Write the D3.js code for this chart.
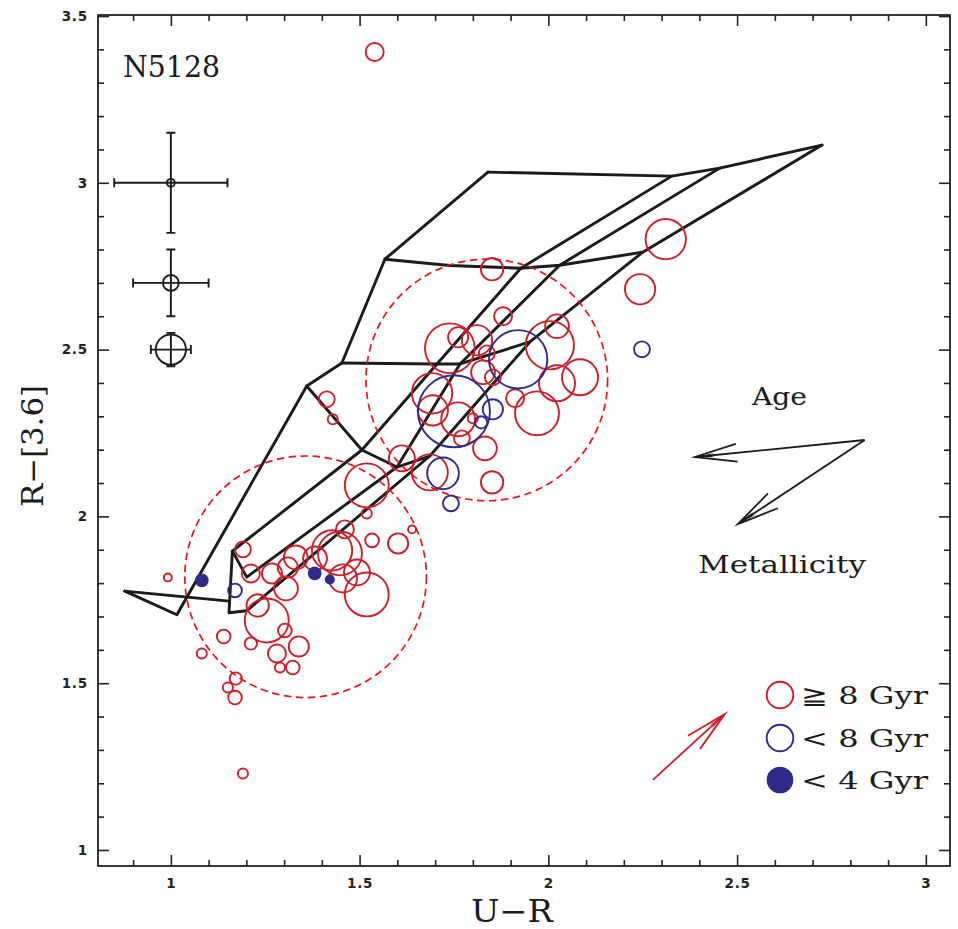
<!DOCTYPE html>
<html>
<head>
<meta charset="utf-8">
<script src="https://cdn.jsdelivr.net/npm/d3@7"></script>
<style>
  body { margin: 0; background: #fff; }
  svg { display: block; }
</style>
</head>
<body>
<svg id="chart" width="958" height="929"></svg>
<script>
// ---- Globular clusters in NGC 5128: U-R versus R-[3.6] ----

// Old clusters (>= 8 Gyr): colours and relative symbol size
const oldUR   = [1.540, 2.311, 2.243, 1.851, 1.413, 1.429, 1.880, 1.739, 1.761, 1.811,
                 1.837, 1.827, 1.853, 2.023, 2.004, 2.084, 2.023, 1.970, 1.912, 1.692,
                 1.694, 1.761, 1.800, 1.771, 1.832, 1.612, 1.686, 1.851, 1.519, 1.519,
                 1.533, 1.639, 1.602, 1.461, 1.191, 0.992, 1.212, 1.268, 1.310, 1.331,
                 1.382, 1.427, 1.448, 1.456, 1.493, 1.519, 1.305, 1.230, 1.254, 1.302,
                 1.140, 1.212, 1.281, 1.339, 1.289, 1.323, 1.172, 1.151, 1.170, 1.191,
                 1.082];
const oldR36  = [3.392, 2.831, 2.681, 2.741, 2.351, 2.291, 2.600, 2.504, 2.537, 2.528,
                 2.489, 2.432, 2.417, 2.570, 2.513, 2.417, 2.399, 2.309, 2.354, 2.369,
                 2.318, 2.291, 2.294, 2.234, 2.204, 2.174, 2.132, 2.102, 2.093, 2.009,
                 1.928, 1.961, 1.919, 1.961, 1.901, 1.817, 1.829, 1.829, 1.847, 1.877,
                 1.874, 1.898, 1.889, 1.814, 1.832, 1.766, 1.784, 1.733, 1.688, 1.658,
                 1.640, 1.619, 1.589, 1.610, 1.547, 1.547, 1.514, 1.487, 1.457, 1.229,
                 1.589];
const oldSize = [2.5, 5.6, 4.2, 3.1, 2.2, 1.4, 2.5, 6.9, 2.8, 4.2,
                 2.2, 3.3, 2.2, 3.3, 6.7, 5.0, 5.0, 6.1, 2.5, 5.6,
                 4.2, 4.7, 1.4, 2.2, 3.3, 3.6, 5.0, 3.1, 6.1, 1.4,
                 1.9, 1.1, 2.8, 2.5, 2.2, 1.1, 2.5, 2.8, 2.8, 3.3,
                 3.3, 5.6, 6.1, 3.9, 3.6, 6.1, 3.3, 3.1, 6.1, 1.9,
                 1.9, 1.7, 2.5, 2.8, 1.4, 1.9, 1.7, 1.4, 1.9, 1.4,
                 1.4];

// Intermediate-age clusters (< 8 Gyr)
const midUR   = [1.920, 1.750, 1.853, 1.822, 1.721, 1.742, 2.248, 1.170];
const midR36  = [2.471, 2.315, 2.321, 2.282, 2.129, 2.039, 2.501, 1.778];
const midSize = [8.1, 10.0, 2.8, 1.7, 4.4, 2.2, 2.2, 1.9];

// Young clusters (< 4 Gyr)
const youngUR   = [1.082, 1.381, 1.421];
const youngR36  = [1.808, 1.829, 1.811];
const youngSize = [1.9, 1.9, 1.4];

// Typical errors for three symbol sizes
const errUR   = [1.0, 1.0, 1.0];
const errR36  = [3.0, 2.7, 2.5];
const errSize = [1.1, 2.2, 4.2];
const errDx   = [0.15, 0.10, 0.053];
const errDy   = [0.15, 0.10, 0.05];

// SSP model grid: isochrones and metallicity tracks
const isoOldest = [[1.840, 3.032], [2.327, 3.020], [2.454, 3.044], [2.725, 3.113]];
const iso2      = [[1.567, 2.771], [1.739, 2.752], [1.927, 2.744], [2.030, 2.753], [2.250, 2.792]];
const iso3      = [[1.453, 2.460], [1.705, 2.457], [1.766, 2.457], [1.951, 2.523]];
const iso4      = [[1.360, 2.391], [1.506, 2.199], [1.599, 2.148], [1.686, 2.181]];
const isoYoung  = [[0.878, 1.776], [1.154, 1.746]];
const trackZ1   = [[0.878, 1.776], [1.016, 1.705], [1.360, 2.391], [1.453, 2.460], [1.567, 2.771], [1.840, 3.032]];
const trackZ2   = [[2.327, 3.020], [1.927, 2.744], [1.705, 2.457], [1.506, 2.199], [1.163, 1.896], [1.154, 1.711], [1.201, 1.717]];
const trackZ3   = [[2.454, 3.044], [2.030, 2.753], [1.766, 2.457], [1.599, 2.148], [1.201, 1.818], [1.163, 1.896]];
const trackZ4   = [[2.725, 3.113], [2.250, 2.792], [1.951, 2.523], [1.686, 2.181], [1.201, 1.717]];
const modelLines = [isoOldest, iso2, iso3, iso4, isoYoung, trackZ1, trackZ2, trackZ3, trackZ4];

// Two colour groups (centre U-R, centre R-[3.6], radius in U-R units)
const groupCentres = [[1.357, 1.819], [1.837, 2.409]];
const groupRadius  = 0.32;

// Direction arrows [from, to]
const ageArrow   = [[2.838, 2.229], [2.388, 2.178]];
const metalArrow = [[2.838, 2.229], [2.502, 1.977]];
const redArrow   = [[2.277, 1.210], [2.468, 1.408]];

// Axis ticks
const xMajor = [1, 1.5, 2, 2.5, 3];
const yMajor = [1, 1.5, 2, 2.5, 3, 3.5];
const xMinor = d3.range(9, 31).map(d => d / 10).filter(v => !xMajor.includes(v));
const yMinor = d3.range(10, 36).map(d => d / 10).filter(v => !yMajor.includes(v));

const legendLabels = ["\u2267 8 Gyr", "< 8 Gyr", "< 4 Gyr"];

// ---- layout ----
const L = 98, R = 950, T = 15, B = 866;
const RED = "#c9202b", BLUE = "#2f2b88", DASH_RED = "#e8141c", INK = "#1b1b1b";
const SERIF = "'DejaVu Serif', serif";

const svg = d3.select("#chart");
const x = d3.scaleLinear().domain([0.807, 3.064]).range([L, R]);
const y = d3.scaleLinear().domain([0.952, 3.503]).range([B, T]);
const r = d3.scaleLinear().domain([0, 10]).range([0, 36]);

// model grid
const line = d3.line().x(d => x(d[0])).y(d => y(d[1]));
svg.append("g")
  .selectAll("path").data(modelLines).join("path")
  .attr("d", line)
  .attr("fill", "none").attr("stroke", INK)
  .attr("stroke-width", 2.9).attr("stroke-linejoin", "round").attr("stroke-linecap", "round");

// group outlines
svg.append("g")
  .selectAll("circle").data(groupCentres).join("circle")
  .attr("cx", d => x(d[0])).attr("cy", d => y(d[1]))
  .attr("r", x(1 + groupRadius) - x(1))
  .attr("fill", "none").attr("stroke", DASH_RED)
  .attr("stroke-width", 1.7).attr("stroke-dasharray", "7.5,4.5");

// clusters
function plotGroup(ur, r36, size, color, filled) {
  svg.append("g")
    .selectAll("circle").data(ur.map((u, i) => [u, r36[i], size[i]])).join("circle")
    .attr("cx", d => x(d[0])).attr("cy", d => y(d[1])).attr("r", d => r(d[2]))
    .attr("fill", filled ? color : "none")
    .attr("stroke", filled ? "none" : color)
    .attr("stroke-width", 1.9);
}
plotGroup(oldUR, oldR36, oldSize, RED, false);
plotGroup(midUR, midR36, midSize, BLUE, false);
plotGroup(youngUR, youngR36, youngSize, BLUE, true);

// typical error bars
const eg = svg.append("g").attr("stroke", INK).attr("stroke-width", 1.9).attr("fill", "none");
errUR.forEach((u, i) => {
  const cx = x(u), cy = y(errR36[i]);
  const x0 = x(u - errDx[i]), x1 = x(u + errDx[i]);
  const y0 = y(errR36[i] - errDy[i]), y1 = y(errR36[i] + errDy[i]);
  const cap = 4.5;
  eg.append("path").attr("d",
    `M${x0},${cy}H${x1}M${cx},${y0}V${y1}` +
    `M${x0},${cy - cap}V${cy + cap}M${x1},${cy - cap}V${cy + cap}` +
    `M${cx - cap},${y0}H${cx + cap}M${cx - cap},${y1}H${cx + cap}`);
  eg.append("circle").attr("cx", cx).attr("cy", cy).attr("r", r(errSize[i]));
});

// arrows
function arrow(a, color, width) {
  const x1 = x(a[0][0]), y1 = y(a[0][1]), x2 = x(a[1][0]), y2 = y(a[1][1]);
  const ang = Math.atan2(y1 - y2, x1 - x2);
  const len = 43, spread = 12 * Math.PI / 180;
  const p = (l, t) => [x2 + l * Math.cos(ang + t), y2 + l * Math.sin(ang + t)];
  const g = svg.append("g");
  g.append("path")
    .attr("d", `M${x1},${y1}L${x2},${y2}M${p(len, spread)}L${x2},${y2}L${p(len, -spread)}`)
    .attr("fill", "none").attr("stroke", color).attr("stroke-width", width)
    .attr("stroke-linejoin", "miter").attr("stroke-miterlimit", 10);
  g.append("path")
    .attr("d", `M${x2},${y2}L${p(20, 0.1)}L${p(14, 0)}L${p(20, -0.1)}Z`)
    .attr("fill", color);
}
arrow(ageArrow, INK, 1.8);
arrow(metalArrow, INK, 1.8);
arrow(redArrow, RED, 1.8);

// annotation text
function label(txt, px, py, size, len) {
  svg.append("text").text(txt)
    .attr("x", px).attr("y", py)
    .attr("font-family", SERIF).attr("font-size", size)
    .attr("fill", INK)
    .attr("textLength", len).attr("lengthAdjust", "spacingAndGlyphs");
}
label("N5128", 123, 77, 29, 97);
label("Age", 752, 405, 25, 55);
label("Metallicity", 698, 573, 25, 168);

// legend
const legendY = [695, 738, 780];
legendLabels.forEach((t, i) => {
  svg.append("circle")
    .attr("cx", 780).attr("cy", legendY[i]).attr("r", r(3.7))
    .attr("fill", i === 2 ? BLUE : "none")
    .attr("stroke", i === 2 ? "none" : (i === 0 ? RED : BLUE))
    .attr("stroke-width", 1.9);
  label(t, 801, legendY[i] + 8.5, 25, 127);
});

// axes: ticks on all four sides, pointing inward
function styleAxis(g) {
  g.select(".domain").remove();
  g.selectAll(".tick line").attr("stroke", "#222").attr("stroke-width", 1.6);
  g.selectAll(".tick text")
    .attr("font-family", "'DejaVu Sans', sans-serif").attr("font-weight", "bold")
    .attr("font-size", 13.5).attr("fill", "#222").attr("letter-spacing", 0.8);
}
const fmt = d => d3.format("~g")(d);
svg.append("g").attr("transform", `translate(0,${B})`)
  .call(d3.axisBottom(x).tickValues(xMinor).tickSize(-6).tickFormat("")).call(styleAxis);
svg.append("g").attr("transform", `translate(0,${B})`)
  .call(d3.axisBottom(x).tickValues(xMajor).tickSize(-11).tickPadding(12).tickFormat(fmt)).call(styleAxis);
svg.append("g").attr("transform", `translate(0,${T})`)
  .call(d3.axisTop(x).tickValues(xMinor).tickSize(-6).tickFormat("")).call(styleAxis);
svg.append("g").attr("transform", `translate(0,${T})`)
  .call(d3.axisTop(x).tickValues(xMajor).tickSize(-11).tickFormat("")).call(styleAxis);
svg.append("g").attr("transform", `translate(${L},0)`)
  .call(d3.axisLeft(y).tickValues(yMinor).tickSize(-6).tickFormat("")).call(styleAxis);
svg.append("g").attr("transform", `translate(${L},0)`)
  .call(d3.axisLeft(y).tickValues(yMajor).tickSize(-11).tickPadding(10).tickFormat(fmt)).call(styleAxis);
svg.append("g").attr("transform", `translate(${R},0)`)
  .call(d3.axisRight(y).tickValues(yMinor).tickSize(-6).tickFormat("")).call(styleAxis);
svg.append("g").attr("transform", `translate(${R},0)`)
  .call(d3.axisRight(y).tickValues(yMajor).tickSize(-11).tickFormat("")).call(styleAxis);

// frame
svg.append("rect")
  .attr("x", L).attr("y", T).attr("width", R - L).attr("height", B - T)
  .attr("fill", "none").attr("stroke", "#222").attr("stroke-width", 1.8);

// axis titles
svg.append("text").text("U\u2212R")
  .attr("x", (L + R) / 2 - 12).attr("y", 922).attr("text-anchor", "middle")
  .attr("font-family", SERIF).attr("font-size", 31).attr("fill", INK)
  .attr("textLength", 82).attr("lengthAdjust", "spacingAndGlyphs");
svg.append("text").text("R\u2212[3.6]")
  .attr("transform", "translate(43,446) rotate(-90)").attr("text-anchor", "middle")
  .attr("font-family", SERIF).attr("font-size", 30).attr("fill", INK)
  .attr("textLength", 122).attr("lengthAdjust", "spacingAndGlyphs");
</script>
</body>
</html>
